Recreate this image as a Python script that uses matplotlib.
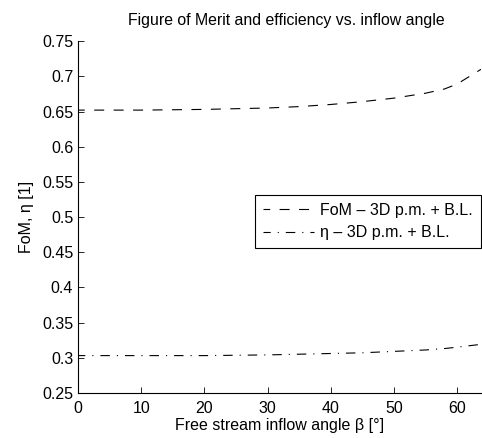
import matplotlib.pyplot as plt

plt.rcParams['font.family'] = ['Liberation Sans', 'DejaVu Sans']

beta = [0, 5, 10, 15, 20, 25, 30, 35, 40, 45, 50, 55, 58, 60, 63.8]
fom = [0.652, 0.652, 0.652, 0.6525, 0.653, 0.654, 0.655, 0.657, 0.660, 0.664, 0.669, 0.676, 0.682, 0.689, 0.710]
eta = [0.303, 0.303, 0.303, 0.303, 0.303, 0.3035, 0.304, 0.305, 0.306, 0.307, 0.309, 0.311, 0.313, 0.315, 0.319]

fig = plt.figure(figsize=(4.82, 4.38), dpi=100)
ax = fig.add_axes([0.162, 0.103, 0.836, 0.803])

ax.plot(beta, fom, color='black', lw=0.8, linestyle=(3, (9, 8.5)), label='FoM – 3D p.m. + B.L.')
ax.plot(beta, eta, color='black', lw=0.8, linestyle=(2, (8.5, 6.3, 1, 6.3)), label='η – 3D p.m. + B.L.')

ax.set_xlim(0, 63.8)
ax.set_ylim(0.25, 0.75)
ax.set_xticks([0, 10, 20, 30, 40, 50, 60])
ax.set_yticks([0.25, 0.3, 0.35, 0.4, 0.45, 0.5, 0.55, 0.6, 0.65, 0.7, 0.75])
ax.set_yticklabels(['0.25', '0.3', '0.35', '0.4', '0.45', '0.5', '0.55', '0.6', '0.65', '0.7', '0.75'])
ax.tick_params(direction='in', labelsize=11.5, length=4, width=0.6)
ax.tick_params(axis='x', pad=6)
ax.spines['top'].set_visible(False)
ax.spines['right'].set_visible(False)
ax.spines['left'].set_linewidth(0.8)
ax.spines['bottom'].set_linewidth(0.8)

ax.set_xlabel('Free stream inflow angle β [°]', fontsize=11.5, labelpad=1)
ax.set_ylabel('FoM, η [1]', fontsize=11.5, labelpad=6)
ax.set_title('Figure of Merit and efficiency vs. inflow angle', fontsize=11.4, pad=12, x=0.517)

leg = ax.legend(loc='upper right', bbox_to_anchor=(1.0, 0.5625), fontsize=11.5,
                fancybox=False, framealpha=1, edgecolor='black', borderaxespad=0,
                handlelength=3.2, handletextpad=0.4, labelspacing=0.45, borderpad=0.5)
leg.get_frame().set_linewidth(0.8)

fig.savefig('out.png', dpi=100)
